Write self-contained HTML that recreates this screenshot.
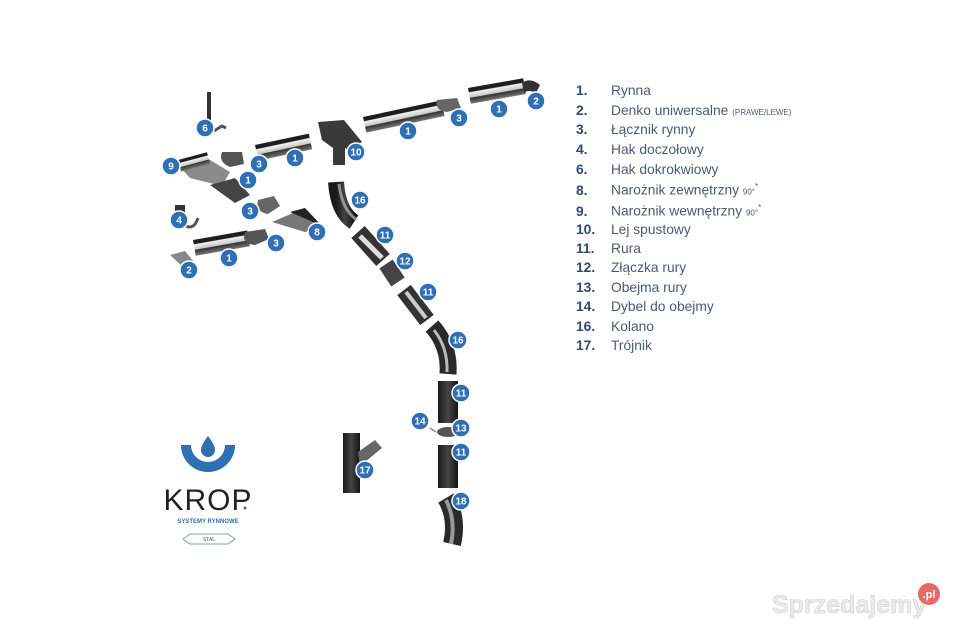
<!DOCTYPE html>
<html><head><meta charset="utf-8"><style>
html,body{margin:0;padding:0;background:#fff}
body{width:960px;height:638px;position:relative;overflow:hidden;font-family:"Liberation Sans","DejaVu Sans",sans-serif}
svg{position:absolute;left:0;top:0}
.lg{position:absolute;left:576px;font-size:13.8px;color:#4a5a75;white-space:nowrap}
.lg b{display:inline-block;width:35px;color:#2f4a6e;font-weight:bold}
.lg small{font-size:8px}
</style></head><body>
<svg width="960" height="638" viewBox="0 0 960 638">
<defs>
<linearGradient id="gt" x1="0" y1="0" x2="0" y2="1">
<stop offset="0" stop-color="#1e1e1e"/><stop offset=".25" stop-color="#1e1e1e"/><stop offset=".3" stop-color="#f2f2f2"/><stop offset=".6" stop-color="#c8c8c8"/><stop offset=".65" stop-color="#333"/><stop offset="1" stop-color="#777"/>
</linearGradient>
<linearGradient id="dk" x1="0" y1="0" x2="1" y2="0">
<stop offset="0" stop-color="#1a1a1a"/><stop offset=".5" stop-color="#444"/><stop offset="1" stop-color="#151515"/>
</linearGradient>
</defs>
<rect x="207" y="92" width="4" height="34" fill="#333"/>
<path d="M214 131 l8 -5 l4 2" stroke="#555" stroke-width="3" fill="none"/>
<rect x="0" y="0" width="56" height="16" fill="url(#gt)" transform="translate(468,88) rotate(-10)"/>
<rect x="0" y="0" width="80" height="16" fill="url(#gt)" transform="translate(363,117) rotate(-12)"/>
<rect x="0" y="0" width="55" height="16" fill="url(#gt)" transform="translate(255,145) rotate(-12)"/>
<rect x="0" y="0" width="55" height="16" fill="url(#gt)" transform="translate(193,240) rotate(-10)"/>
<polygon points="178,165 205,157 230,172 222,186 190,178" fill="#8a8a8a"/>
<rect x="0" y="0" width="30" height="12" fill="url(#gt)" transform="translate(178,160) rotate(-15)"/>
<polygon points="210,185 235,178 250,195 235,203" fill="#444"/>
<polygon points="272,222 300,210 325,228 305,232" fill="#777"/>
<polygon points="290,212 305,208 322,226" fill="#222"/>
<path d="M222 152 q-4 10 8 15 l14 -3 l-2 -12 z" fill="#555"/>
<path d="M258 200 q-3 12 10 14 l12 -8 l-6 -10 z" fill="#666"/>
<path d="M245 232 q-4 12 10 13 l14 -6 l-4 -10 z" fill="#555"/>
<path d="M437 100 q-3 10 10 12 l14 -4 l-4 -10 z" fill="#666"/>
<rect x="175" y="205" width="10" height="9" fill="#333"/>
<path d="M186 226 q8 4 12 -8" stroke="#555" stroke-width="3" fill="none"/>
<polygon points="170,255 185,251 194,262 182,266" fill="#888"/>
<path d="M522 83 q8 -6 18 2 l-4 8 q-8 -4 -12 0 z" fill="#333"/>
<polygon points="318,122 344,120 362,142 348,150 345,148 345,165 333,165 333,148 322,140" fill="#3a3a3a"/>
<path d="M336 182 q2 30 18 40" stroke="url(#dk)" stroke-width="16" fill="none"/>
<path d="M339 184 q3 26 18 36" stroke="#bbb" stroke-width="3" fill="none" opacity=".7"/>
<line x1="358" y1="232" x2="383" y2="260" stroke="#333" stroke-width="18"/>
<line x1="360" y1="236" x2="382" y2="258" stroke="#ddd" stroke-width="5"/>
<line x1="386" y1="264" x2="398" y2="282" stroke="#444" stroke-width="16"/>
<line x1="404" y1="290" x2="427" y2="320" stroke="#333" stroke-width="17"/>
<line x1="406" y1="292" x2="426" y2="318" stroke="#ccc" stroke-width="4"/>
<path d="M432 326 q18 20 16 48" stroke="#2a2a2a" stroke-width="17" fill="none"/>
<path d="M434 330 q14 18 13 42" stroke="#bbb" stroke-width="3" fill="none"/>
<rect x="438" y="381" width="20" height="42" fill="url(#dk)"/>
<ellipse cx="448" cy="432" rx="11" ry="5" fill="#555"/>
<rect x="438" y="445" width="20" height="43" fill="url(#dk)"/>
<path d="M446 498 q12 20 6 46" stroke="#2a2a2a" stroke-width="18" fill="none"/>
<path d="M446 500 q10 20 5 44" stroke="#999" stroke-width="4" fill="none"/>
<line x1="430" y1="428" x2="436" y2="432" stroke="#888" stroke-width="1.5"/>
<rect x="343" y="433" width="17" height="60" fill="url(#dk)"/>
<polygon points="358,452 375,440 382,448 360,466" fill="#666"/>
<g fill="#2f6fb4" stroke="#fff" stroke-width="1.5">
<circle cx="205" cy="128" r="9"/><circle cx="171" cy="166" r="9"/><circle cx="259" cy="164" r="9"/><circle cx="295" cy="158" r="9"/>
<circle cx="248" cy="180" r="9"/><circle cx="250" cy="211" r="9"/><circle cx="179" cy="220" r="9"/><circle cx="317" cy="232" r="9"/>
<circle cx="276" cy="243" r="9"/><circle cx="229" cy="258" r="9"/><circle cx="189" cy="270" r="9"/><circle cx="356" cy="152" r="9"/>
<circle cx="408" cy="131" r="9"/><circle cx="459" cy="118" r="9"/><circle cx="499" cy="109" r="9"/><circle cx="536" cy="101" r="9"/>
<circle cx="360" cy="200" r="9"/><circle cx="385" cy="235" r="9"/><circle cx="405" cy="261" r="9"/><circle cx="428" cy="292" r="9"/>
<circle cx="458" cy="340" r="9"/><circle cx="461" cy="393" r="9"/><circle cx="420" cy="421" r="9"/><circle cx="461" cy="428" r="9"/>
<circle cx="461" cy="452" r="9"/><circle cx="461" cy="501" r="9"/><circle cx="365" cy="470" r="9"/>
</g>
<g fill="#fff" font-size="10" font-weight="bold" font-family="Liberation Sans,sans-serif" text-anchor="middle">
<text x="205" y="131.5">6</text><text x="171" y="169.5">9</text><text x="259" y="167.5">3</text><text x="295" y="161.5">1</text>
<text x="248" y="183.5">1</text><text x="250" y="214.5">3</text><text x="179" y="223.5">4</text><text x="317" y="235.5">8</text>
<text x="276" y="246.5">3</text><text x="229" y="261.5">1</text><text x="189" y="273.5">2</text><text x="356" y="155.5">10</text>
<text x="408" y="134.5">1</text><text x="459" y="121.5">3</text><text x="499" y="112.5">1</text><text x="536" y="104.5">2</text>
<text x="360" y="203.5">16</text><text x="385" y="238.5">11</text><text x="405" y="264.5">12</text><text x="428" y="295.5">11</text>
<text x="458" y="343.5">16</text><text x="461" y="396.5">11</text><text x="420" y="424.5">14</text><text x="461" y="431.5">13</text>
<text x="461" y="455.5">11</text><text x="461" y="504.5">18</text><text x="365" y="473.5">17</text>
</g>
<path d="M186 445 a22 22 0 0 0 44 0" stroke="#2f6fb4" stroke-width="10" fill="none"/>
<path d="M208 436 q-7 9 -7 14 a7 7 0 0 0 14 0 q0 -5 -7 -14 z" fill="#2f6fb4"/>
<text x="208" y="510" text-anchor="middle" font-size="30" fill="#222" font-family="Liberation Sans,sans-serif" letter-spacing="1">KROP</text>
<circle cx="245" cy="508" r="1.5" fill="#2f6fb4"/>
<text x="208" y="523" text-anchor="middle" font-size="6" fill="#2f6fb4" font-family="Liberation Sans,sans-serif" font-weight="bold">SYSTEMY RYNNOWE</text>
<polygon points="183,539 190,534 228,534 235,539 228,544 190,544" fill="none" stroke="#7aa0c8" stroke-width="1"/>
<text x="209" y="541" text-anchor="middle" font-size="5" fill="#557">STAL</text>
<text x="772" y="613" font-size="25" font-weight="bold" fill="#ebebeb" stroke="#d0d0d0" stroke-width=".6" font-family="Liberation Sans,sans-serif">Sprzedajemy</text>
<circle cx="929" cy="594" r="11" fill="#e46a6a"/>
<text x="929" y="598" text-anchor="middle" font-size="11" font-weight="bold" fill="#fff" font-family="Liberation Sans,sans-serif">.pl</text>
</svg>
<div class="lg" style="top:83px"><b>1.</b>Rynna</div>
<div class="lg" style="top:103px"><b>2.</b>Denko uniwersalne <small>(PRAWE/LEWE)</small></div>
<div class="lg" style="top:122px"><b>3.</b>Łącznik rynny</div>
<div class="lg" style="top:142px"><b>4.</b>Hak doczołowy</div>
<div class="lg" style="top:162px"><b>6.</b>Hak dokrokwiowy</div>
<div class="lg" style="top:182px"><b>8.</b>Narożnik zewnętrzny <small>90°</small><sup style="font-size:8px">*</sup></div>
<div class="lg" style="top:203px"><b>9.</b>Narożnik wewnętrzny <small>90°</small><sup style="font-size:8px">*</sup></div>
<div class="lg" style="top:222px"><b>10.</b>Lej spustowy</div>
<div class="lg" style="top:241px"><b>11.</b>Rura</div>
<div class="lg" style="top:260px"><b>12.</b>Złączka rury</div>
<div class="lg" style="top:280px"><b>13.</b>Obejma rury</div>
<div class="lg" style="top:299px"><b>14.</b>Dybel do obejmy</div>
<div class="lg" style="top:319px"><b>16.</b>Kolano</div>
<div class="lg" style="top:338px"><b>17.</b>Trójnik</div>
</body></html>
